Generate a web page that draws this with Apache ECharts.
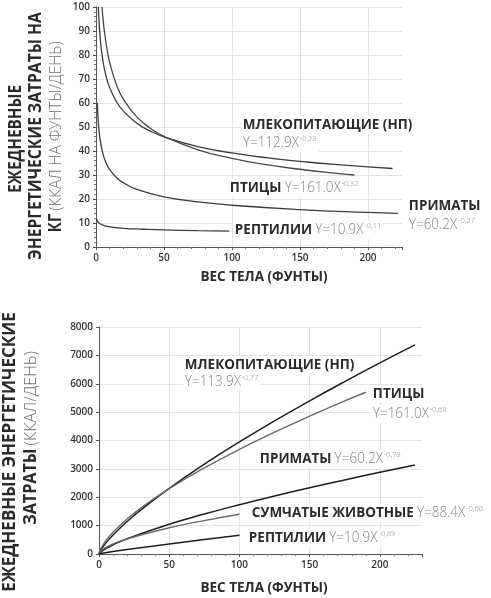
<!DOCTYPE html>
<html>
<head>
<meta charset="utf-8">
<script src="https://cdn.jsdelivr.net/npm/echarts@6/dist/echarts.min.js"></script>
<style>
  html, body { margin: 0; padding: 0; background: #fff; }
  #chart { width: 491px; height: 598px; }
</style>
</head>
<body>
<div id="chart"></div>
<script>
// верхний график: ккал на фунт в день, [вес, значение]
const mammalsKg = [[1.7,100],[2.5,91.4],[3.5,84.6],[5,78],[7,72.1],[10,66.5],[15,60.6],[20,56.7],[30,51.6],[40,48.3],[50,45.9],[75,41.8],[100,39.2],[125,37.2],[150,35.7],[175,34.4],[200,33.4],[218,32.7]];
const birdsKg = [[4.4,100],[5,96.2],[6,90.7],[8,82.8],[10,77.1],[15,67.7],[20,61.7],[30,54.2],[40,49.5],[50,46.1],[75,40.5],[100,36.9],[125,34.3],[150,32.4],[175,30.8],[190,30]];
const primatesKg = [[1,60],[1.5,53.9],[2,49.9],[3,44.8],[5,39],[7,35.6],[10,32.3],[15,29],[20,26.8],[30,24],[50,20.9],[75,18.8],[100,17.4],[150,15.6],[200,14.4],[222,14]];
const reptilesKg = [[0.5,11.6],[1,10.9],[2,10.1],[5,9.1],[10,8.4],[20,7.8],[35,7.4],[50,7.1],[75,6.8],[98,6.6]];

// нижний график: ккал в день
const mammalsDay = [[0,0],[1,114],[5,393],[10,671],[20,1144],[30,1563],[50,2316],[75,3164],[100,3949],[125,4690],[150,5397],[175,6078],[200,6736],[225,7370]];
const birdsDay = [[0,0],[1,161],[5,481],[10,771],[20,1235],[30,1627],[50,2302],[75,3033],[100,3689],[125,4292],[150,4860],[175,5397],[190,5700]];
const primatesDay = [[0,0],[1,60],[5,195],[10,323],[20,536],[50,1047],[75,1407],[100,1736],[125,2043],[150,2335],[175,2611],[200,2879],[225,3138]];
const marsupialsDay = [[0,0],[1,88],[5,232],[10,352],[20,533],[50,924],[75,1178],[100,1401]];
const reptilesDay = [[0,0],[1,11],[10,85],[20,157],[50,354],[75,508],[100,657]];

const FONT = "'Open Sans', 'Noto Sans', sans-serif";
const DARK = '#2b2b2b';
const GREY = '#858585';

const chart = echarts.init(document.getElementById('chart'));

function axisBase(min, max, interval, minor, isX) {
  return {
    type: 'value', min: min, max: max, interval: interval,
    axisLine: { show: true, lineStyle: { color: '#555', width: 1 } },
    axisTick: { show: true, length: 3, lineStyle: { color: '#555' } },
    minorTick: { show: minor > 0, splitNumber: minor || 5, length: 2, lineStyle: { color: '#777' } },
    splitLine: { show: true, showMaxLine: !isX, showMinLine: false, lineStyle: { color: '#e4e4e4', width: 1 } },
    axisLabel: {
      color: '#333', fontFamily: FONT, fontWeight: 600, fontSize: 10, margin: 6,
      showMaxLabel: !isX, formatter: function (v) { return String(v); }
    }
  };
}

function line(name, data, xi, color, width) {
  return {
    name: name, type: 'line', xAxisIndex: xi, yAxisIndex: xi, data: data,
    smooth: 0.5, showSymbol: false, symbol: 'none',
    lineStyle: { color: color, width: width }, silent: true, z: 3
  };
}

const rich = {
  b: { fontFamily: FONT, fontWeight: 'bold', fontSize: 14.5, fill: DARK, lineHeight: 18 },
  f: { fontFamily: FONT, fontWeight: 300, fontSize: 14.5, fill: GREY, lineHeight: 18 },
  s: { fontFamily: FONT, fontWeight: 300, fontSize: 8, fill: GREY, lineHeight: 18, verticalAlign: 'top', padding: [1, 0, 0, 1] }
};

// подписи лежат под линиями, но над сеткой
function label(x, y, text) {
  return {
    type: 'text', x: x, y: y, z: 1, scaleX: 0.93,
    style: { text: text, rich: rich, backgroundColor: '#fff', padding: [0, 2], align: 'left', verticalAlign: 'middle', textAlign: 'left', textVerticalAlign: 'middle' }
  };
}

const titleRich = {
  b: { fontFamily: FONT, fontWeight: 'bold', fontSize: 17, fill: DARK },
  l: { fontFamily: FONT, fontWeight: 300, fontSize: 17, fill: '#6f6f6f' }
};

function vtitle(x, y, text, sx) {
  return {
    type: 'text', x: x, y: y, rotation: Math.PI / 2, scaleX: sx,
    style: { text: text, rich: titleRich, align: 'center', verticalAlign: 'middle', textAlign: 'center', textVerticalAlign: 'middle' }
  };
}

function htitle(x, y, text) {
  return {
    type: 'text', x: x, y: y, scaleX: 0.9,
    style: { text: text, fontFamily: FONT, fontWeight: 'bold', fontSize: 15, fill: DARK, align: 'center', verticalAlign: 'middle', textAlign: 'center', textVerticalAlign: 'middle' }
  };
}

const option = {
  animation: false,
  backgroundColor: '#fff',
  grid: [
    { left: 96, top: 7, width: 306, height: 240, containLabel: false },
    { left: 99, top: 327, width: 323, height: 227, containLabel: false }
  ],
  xAxis: [
    Object.assign(axisBase(0, 225, 50, 5, true), { gridIndex: 0 }),
    Object.assign(axisBase(0, 230, 50, 5, true), { gridIndex: 1 })
  ],
  yAxis: [
    Object.assign(axisBase(0, 100, 10, 5, false), { gridIndex: 0 }),
    Object.assign(axisBase(0, 8000, 1000, 0, false), { gridIndex: 1 })
  ],
  series: [
    line('Млекопитающие (кг)', mammalsKg, 0, '#3c3c3c', 1.3),
    line('Птицы (кг)', birdsKg, 0, '#4a4a4a', 1.3),
    line('Приматы (кг)', primatesKg, 0, '#3c3c3c', 1.3),
    line('Рептилии (кг)', reptilesKg, 0, '#3c3c3c', 1.3),
    line('Млекопитающие', mammalsDay, 1, '#1e1e1e', 1.5),
    line('Птицы', birdsDay, 1, '#6a6a6a', 1.4),
    line('Приматы', primatesDay, 1, '#1e1e1e', 1.5),
    line('Сумчатые', marsupialsDay, 1, '#6a6a6a', 1.4),
    line('Рептилии', reptilesDay, 1, '#1e1e1e', 1.5)
  ],
  graphic: [
    vtitle(16, 139, '{b|ЕЖЕДНЕВНЫЕ}', 0.9),
    vtitle(36, 136, '{b|ЭНЕРГЕТИЧЕСКИЕ ЗАТРАТЫ НА}', 0.92),
    vtitle(56, 137, '{b|КГ} {l|(ККАЛ НА ФУНТЫ/ДЕНЬ)}', 0.9),
    htitle(264, 277, 'ВЕС ТЕЛА (ФУНТЫ)'),
    vtitle(10, 452, '{b|ЕЖЕДНЕВНЫЕ ЭНЕРГЕТИЧЕСКИЕ}', 1.0),
    vtitle(31, 438, '{b|ЗАТРАТЫ} {l|(ККАЛ/ДЕНЬ)}', 0.95),
    htitle(264, 588, 'ВЕС ТЕЛА (ФУНТЫ)'),

    label(241, 125, '{b|МЛЕКОПИТАЮЩИЕ (НП)}'),
    label(241, 143, '{f|Y=112.9X}{s|-0,23}'),
    label(228, 188, '{b|ПТИЦЫ} {f|Y=161.0X}{s|-0,32}'),
    label(407, 206, '{b|ПРИМАТЫ}'),
    label(407, 225, '{f|Y=60.2X}{s|-0,27}'),
    label(233, 230, '{b|РЕПТИЛИИ} {f|Y=10.9X}{s|-0,11}'),

    label(183, 365, '{b|МЛЕКОПИТАЮЩИЕ (НП)}'),
    label(183, 382, '{f|Y=113.9X}{s|-0,77}'),
    label(371, 394, '{b|ПТИЦЫ}'),
    label(371, 414, '{f|Y=161.0X}{s|-0,68}'),
    label(258, 459, '{b|ПРИМАТЫ} {f|Y=60.2X}{s|-0,73}'),
    label(250, 513, '{b|СУМЧАТЫЕ ЖИВОТНЫЕ} {f|Y=88.4X}{s|-0,60}'),
    label(247, 538, '{b|РЕПТИЛИИ} {f|Y=10.9X}{s|-0,89}')
  ]
};

chart.setOption(option);
</script>
</body>
</html>
